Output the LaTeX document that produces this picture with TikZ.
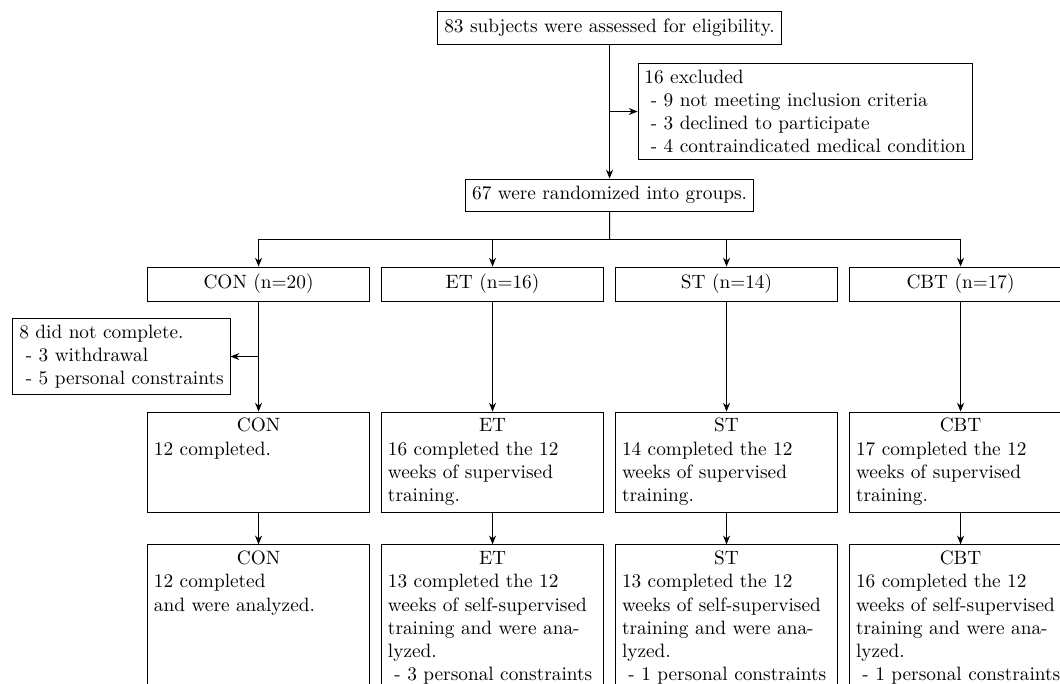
\documentclass[tikz,border=0pt]{standalone}
\usetikzlibrary{arrows.meta,positioning,calc}

\begin{document}
\begin{tikzpicture}[node distance=5mm]
      \tikzstyle{box}=[draw,line width=0.5pt,minimum height=16.6pt,inner sep=3.33pt]
      \tikzstyle{arm}=[box,minimum width=115pt,minimum height=17.6pt]
      \tikzstyle{note}=[box,align=left]
      \tikzstyle{result}=[box,text width=108.3pt,align=left,text height=7pt,text depth=38.6pt]
      \tikzstyle{final}=[result,text depth=100pt]
      \tikzstyle{arr}=[-{Stealth[length=4.5pt,width=3.6pt,inset=1.4pt]},line width=0.5pt]

      \useasboundingbox (0,0) rectangle (549pt,-354pt);
      \clip (0,0) rectangle (549pt,-354pt);

      \node[box] (assess) at (315.7pt,-14.5pt) {83 subjects were assessed for eligibility.};
      \node[box,below=69.4pt of assess] (rand) {67 were randomized into groups.};
      \coordinate (gap1) at ($(assess.south)!0.5!(rand.north)$);
      \node[note,right=14.5pt of gap1] (excl) {16 excluded\\\ - 9 not meeting inclusion criteria\\\ - 3 declined to participate\\\ - 4 contraindicated medical condition};

      \draw[arr] (assess) -- (rand);
      \draw[arr] (gap1) -- (excl);

      \node[arm,below=28.5pt of rand.south,anchor=north east,xshift=-2.85pt] (et) {ET (n=16)};
      \node[arm,left=5.7pt of et] (con) {CON (n=20)};
      \node[arm,right=5.7pt of et] (st) {ST (n=14)};
      \node[arm,right=5.7pt of st] (cbt) {CBT (n=17)};

      \coordinate (split) at ($(rand.south)!0.5!(rand.south |- et.north)$);
      \draw[line width=0.5pt] (rand) -- (split);
      \foreach \g in {con,et,st,cbt} \draw[arr] (split) -| (\g);

      \node[result,below=57pt of con] (con2) {\makebox[\linewidth]{CON}\\12 completed.};
      \node[result,below=57pt of et] (et2) {\makebox[\linewidth]{ET}\\16 completed the 12\\weeks of supervised\\training.};
      \node[result,below=57pt of st] (st2) {\makebox[\linewidth]{ST}\\14 completed the 12\\weeks of supervised\\training.};
      \node[result,below=57pt of cbt] (cbt2) {\makebox[\linewidth]{CBT}\\17 completed the 12\\weeks of supervised\\training.};

      \node[final,below=16pt of con2] (con3) {\makebox[\linewidth]{CON}\\12 completed\\and were analyzed.};
      \node[final,below=16pt of et2] (et3) {\makebox[\linewidth]{ET}\\13 completed the 12\\weeks of self-supervised\\training and were ana-\\lyzed.\\\ - 3 personal constraints};
      \node[final,below=16pt of st2] (st3) {\makebox[\linewidth]{ST}\\13 completed the 12\\weeks of self-supervised\\training and were ana-\\lyzed.\\\ - 1 personal constraints};
      \node[final,below=16pt of cbt2] (cbt3) {\makebox[\linewidth]{CBT}\\16 completed the 12\\weeks of self-supervised\\training and were ana-\\lyzed.\\\ - 1 personal constraints};

      \foreach \g in {con,et,st,cbt} {
        \draw[arr] (\g) -- (\g2);
        \draw[arr] (\g2) -- (\g3);
      }

      % dropouts in the control arm
      \coordinate (gap2) at ($(con.south)!0.5!(con2.north)$);
      \node[note,left=14.5pt of gap2] (dnc) {8 did not complete.\\\ - 3 withdrawal\\\ - 5 personal constraints};
      \draw[arr] (gap2) -- (dnc);
    \end{tikzpicture}
\end{document}
